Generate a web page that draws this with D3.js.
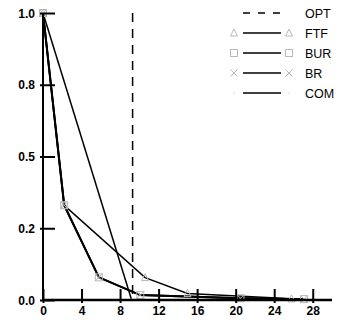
<!DOCTYPE html>
<html>
<head>
<meta charset="utf-8">
<script src="https://cdn.jsdelivr.net/npm/d3@7"></script>
<style>
  body { margin: 0; background: #fff; }
  svg { display: block; font-family: "Liberation Sans", Arial, sans-serif; }
</style>
</head>
<body>
<div id="chart"></div>
<script>
// series values
const optX = 9.3;
const ftf = [[0, 1], [2.2, 0.33], [10.6, 0.078], [15, 0.023], [25.8, 0.004]];
const bur = [[0, 1], [2.2, 0.33], [5.8, 0.079], [10.1, 0.017], [20.5, 0.006], [27.1, 0.003]];
const br = [[0, 1], [2.2, 0.33], [5.8, 0.079], [10.1, 0.017], [20.5, 0.006], [27.1, 0.003]];
const com = [[0, 1], [9.2, 0]];

const xTicks = [0, 4, 8, 12, 16, 20, 24, 28];
const yTicks = [0, 0.25, 0.5, 0.75, 1];
const yTickLabels = ["0.0", "0.2", "0.5", "0.8", "1.0"];
const legendNames = ["OPT", "FTF", "BUR", "BR", "COM"];

const W = 343, H = 322;
const svg = d3.select("#chart").append("svg")
    .attr("width", W)
    .attr("height", H);

const x = d3.scaleLinear().domain([0, 30]).range([43, 332]);
const y = d3.scaleLinear().domain([0, 1]).range([300, 13]);

const markerColor = "#b8b8b8";

// marker drawing helpers
function drawMarker(g, kind, cx, cy) {
  const s = 3.5;
  if (kind === "tri") {
    g.append("path")
      .attr("d", `M${cx},${cy - s - 0.5}L${cx + s},${cy + s - 0.5}L${cx - s},${cy + s - 0.5}Z`)
      .attr("fill", "none").attr("stroke", markerColor).attr("stroke-width", 1);
  } else if (kind === "sq") {
    g.append("rect")
      .attr("x", cx - s).attr("y", cy - s).attr("width", 2 * s).attr("height", 2 * s)
      .attr("fill", "none").attr("stroke", markerColor).attr("stroke-width", 1);
  } else if (kind === "x") {
    g.append("path")
      .attr("d", `M${cx - s},${cy - s}L${cx + s},${cy + s}M${cx - s},${cy + s}L${cx + s},${cy - s}`)
      .attr("fill", "none").attr("stroke", markerColor).attr("stroke-width", 1);
  } else if (kind === "dot") {
    g.append("circle")
      .attr("cx", cx).attr("cy", cy).attr("r", 1.5)
      .attr("fill", "#f0f0f0");
  }
}

const line = d3.line().x(d => x(d[0])).y(d => y(d[1]));

// OPT dashed vertical
svg.append("line")
    .attr("x1", x(optX)).attr("x2", x(optX))
    .attr("y1", y(1)).attr("y2", y(0))
    .attr("stroke", "#000").attr("stroke-width", 1.5)
    .attr("stroke-dasharray", "9,7");

const series = [
  { data: ftf, marker: "tri", w: 1.5 },
  { data: bur, marker: "sq", w: 2 },
  { data: br, marker: "x", w: 2 },
  { data: com, marker: "dot", w: 1.5 }
];

series.forEach(s => {
  svg.append("path")
    .attr("d", line(s.data))
    .attr("fill", "none")
    .attr("stroke", "#000")
    .attr("stroke-width", s.w);
});
const mg = svg.append("g");
series.forEach(s => {
  s.data.forEach(d => drawMarker(mg, s.marker, x(d[0]), y(d[1])));
});

// axes
const xAxis = svg.append("g").attr("transform", `translate(0,${y(0)})`)
    .call(d3.axisBottom(x).tickValues(xTicks).tickSize(-11).tickPadding(6).tickFormat(d3.format("d")));
const yAxis = svg.append("g").attr("transform", `translate(${x(0)},0)`)
    .call(d3.axisLeft(y).tickValues(yTicks).tickSize(-12).tickPadding(8)
      .tickFormat((d, i) => yTickLabels[i]));

[xAxis, yAxis].forEach(a => {
  a.select(".domain").remove();
  a.selectAll(".tick line").attr("stroke", "#000").attr("stroke-width", 2);
  a.selectAll(".tick text")
    .attr("fill", "#000")
    .style("font-size", "12px")
    .style("font-weight", "bold");
});
xAxis.selectAll(".tick line").attr("y2", 3).attr("y1", -11);
yAxis.selectAll(".tick line").attr("x1", -3).attr("x2", 12);
yAxis.selectAll(".tick text").attr("dy", "0.35em");

svg.append("line")
    .attr("x1", x(0) - 1).attr("x2", x(30))
    .attr("y1", y(0)).attr("y2", y(0))
    .attr("stroke", "#000").attr("stroke-width", 2.5);
svg.append("line")
    .attr("x1", x(0)).attr("x2", x(0))
    .attr("y1", y(1)).attr("y2", y(0) + 1)
    .attr("stroke", "#000").attr("stroke-width", 2);

// legend
const legend = svg.append("g");
const legendKinds = [null, "tri", "sq", "x", "dot"];
legendNames.forEach((name, i) => {
  const ly = 13 + i * 20;
  legend.append("line")
    .attr("x1", 243).attr("x2", 281)
    .attr("y1", ly).attr("y2", ly)
    .attr("stroke", "#000").attr("stroke-width", 1.5)
    .attr("stroke-dasharray", i === 0 ? "7,8" : null);
  if (legendKinds[i]) {
    drawMarker(legend, legendKinds[i], 234, ly);
    drawMarker(legend, legendKinds[i], 289, ly);
  }
  legend.append("text")
    .attr("x", 305).attr("y", ly)
    .attr("dy", "0.36em")
    .style("font-size", "12.5px")
    .attr("fill", "#000")
    .text(name);
});
</script>
</body>
</html>
